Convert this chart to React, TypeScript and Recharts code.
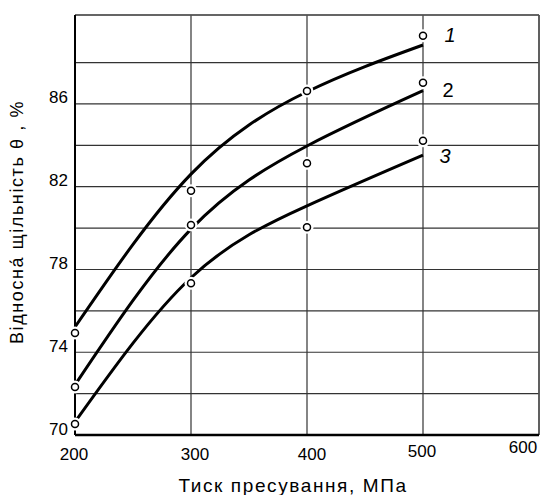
import React from "react";
import {
  ComposedChart,
  Line,
  Scatter,
  XAxis,
  YAxis,
  CartesianGrid,
  ReferenceLine,
  LabelList,
} from "recharts";

// Curve abscissae (pressure, MPa)
const pressures = [200, 300, 400, 500];
// Smooth fitted curves
const curve1 = [75.22, 82.61, 86.59, 88.85];
const curve2 = [72.42, 79.95, 83.97, 86.64];
const curve3 = [70.63, 77.6, 81.08, 83.53];

// Measured points
const pointX = [200, 300, 400, 500];
const points1 = [74.93, 81.81, 86.63, 89.3];
const points2 = [72.32, 80.15, 83.13, 87.03];
const points3 = [70.53, 77.33, 80.04, 84.22];

const curveNames = ["1", "2", "3"];
const xTicks = [200, 300, 400, 500, 600];
const yTicks = [70, 72, 74, 76, 78, 80, 82, 84, 86, 88];
const yLabelTicks = [70, 74, 78, 82, 86];

const xTitle = "Тиск пресування, МПа";
const yTitle = "Відносна́ щільність  θ ,  %";

const curveData = pressures.map((x, i) => ({
  x,
  c1: curve1[i],
  c2: curve2[i],
  c3: curve3[i],
}));
const pts1 = pointX.map((x, i) => ({ x, y: points1[i] }));
const pts2 = pointX.map((x, i) => ({ x, y: points2[i] }));
const pts3 = pointX.map((x, i) => ({ x, y: points3[i] }));

const FONT = "'Liberation Sans', Arial, sans-serif";

const Dot = (props: any) => {
  const { cx, cy } = props;
  if (cx == null || cy == null) return null;
  return (
    <g>
      <circle cx={cx} cy={cy} r={6.5} fill="#fff" stroke="none" />
      <circle cx={cx} cy={cy} r={3.5} fill="#fff" stroke="#000" strokeWidth={1.5} />
    </g>
  );
};

const XTick = (props: any) => {
  const { x, y, payload } = props;
  const v = payload.value;
  const dxMap: Record<number, number> = { 200: -1, 300: 4, 400: 5, 500: -1, 600: -12 };
  const dyMap: Record<number, number> = { 200: 18, 300: 18, 400: 18, 500: 15, 600: 11 };
  return (
    <text
      x={x + (dxMap[v] ?? 0)}
      y={y + (dyMap[v] ?? 18) - 7}
      textAnchor="middle"
      dominantBaseline="central"
      fontFamily={FONT}
      fontSize={17}
      fill="#000"
    >
      {v}
    </text>
  );
};

const YTick = (props: any) => {
  const { y, payload } = props;
  if (!yLabelTicks.includes(payload.value)) return null;
  return (
    <text
      x={68}
      y={y - 6}
      textAnchor="end"
      dominantBaseline="central"
      fontFamily={FONT}
      fontSize={17}
      fill="#000"
    >
      {payload.value}
    </text>
  );
};

const makeEndLabel = (name: string, dx: number, dy: number, italic: boolean) => (props: any) => {
  const { x, y, index } = props;
  if (index !== pressures.length - 1) return null;
  return (
    <text
      x={x + dx}
      y={y + dy}
      textAnchor="middle"
      dominantBaseline="central"
      fontFamily={FONT}
      fontSize={20}
      fontStyle={italic ? "italic" : "normal"}
      fill="#000"
    >
      {name}
    </text>
  );
};

export default function App() {
  return (
    <div style={{ position: "absolute", left: 0, top: 0, background: "#fff" }}>
      <ComposedChart
        width={547}
        height={495}
        data={curveData}
        margin={{ top: 15, right: 8, left: 0, bottom: 0 }}
      >
        <CartesianGrid stroke="#333" strokeWidth={1.2} />
        <XAxis
          dataKey="x"
          type="number"
          domain={[200, 600]}
          ticks={xTicks}
          tickLine={false}
          axisLine={{ stroke: "#000", strokeWidth: 2.5 }}
          tick={<XTick />}
          height={60}
          label={{
            value: xTitle,
            position: "insideBottom",
            offset: 0,
            dy: -3,
            dx: -14,
            style: { fontFamily: FONT, fontSize: 19, letterSpacing: 1.6, fill: "#000" },
          }}
        />
        <YAxis
          type="number"
          domain={[70, 90.3]}
          ticks={yTicks}
          allowDataOverflow
          tickLine={false}
          axisLine={{ stroke: "#000", strokeWidth: 2 }}
          tick={<YTick />}
          width={75}
          label={{
            value: yTitle,
            angle: -90,
            position: "insideLeft",
            offset: 0,
            dx: 17,
            dy: -3,
            style: {
              fontFamily: FONT,
              fontSize: 18,
              letterSpacing: 1.6,
              fill: "#000",
              textAnchor: "middle",
            },
          }}
        />
        <ReferenceLine y={90.3} stroke="#555" strokeWidth={1.5} />
        <ReferenceLine x={600} stroke="#555" strokeWidth={1.5} />
        <Line
          dataKey="c1"
          type="natural"
          stroke="#000"
          strokeWidth={3}
          dot={false}
          isAnimationActive={false}
        >
          <LabelList dataKey="c1" content={makeEndLabel(curveNames[0], 27, -10, true)} />
        </Line>
        <Line
          dataKey="c2"
          type="natural"
          stroke="#000"
          strokeWidth={3}
          dot={false}
          isAnimationActive={false}
        >
          <LabelList dataKey="c2" content={makeEndLabel(curveNames[1], 25, -1, false)} />
        </Line>
        <Line
          dataKey="c3"
          type="natural"
          stroke="#000"
          strokeWidth={3}
          dot={false}
          isAnimationActive={false}
        >
          <LabelList dataKey="c3" content={makeEndLabel(curveNames[2], 22, 1, true)} />
        </Line>
        <Scatter data={pts1} dataKey="y" shape={<Dot />} isAnimationActive={false} />
        <Scatter data={pts2} dataKey="y" shape={<Dot />} isAnimationActive={false} />
        <Scatter data={pts3} dataKey="y" shape={<Dot />} isAnimationActive={false} />
      </ComposedChart>
    </div>
  );
}
